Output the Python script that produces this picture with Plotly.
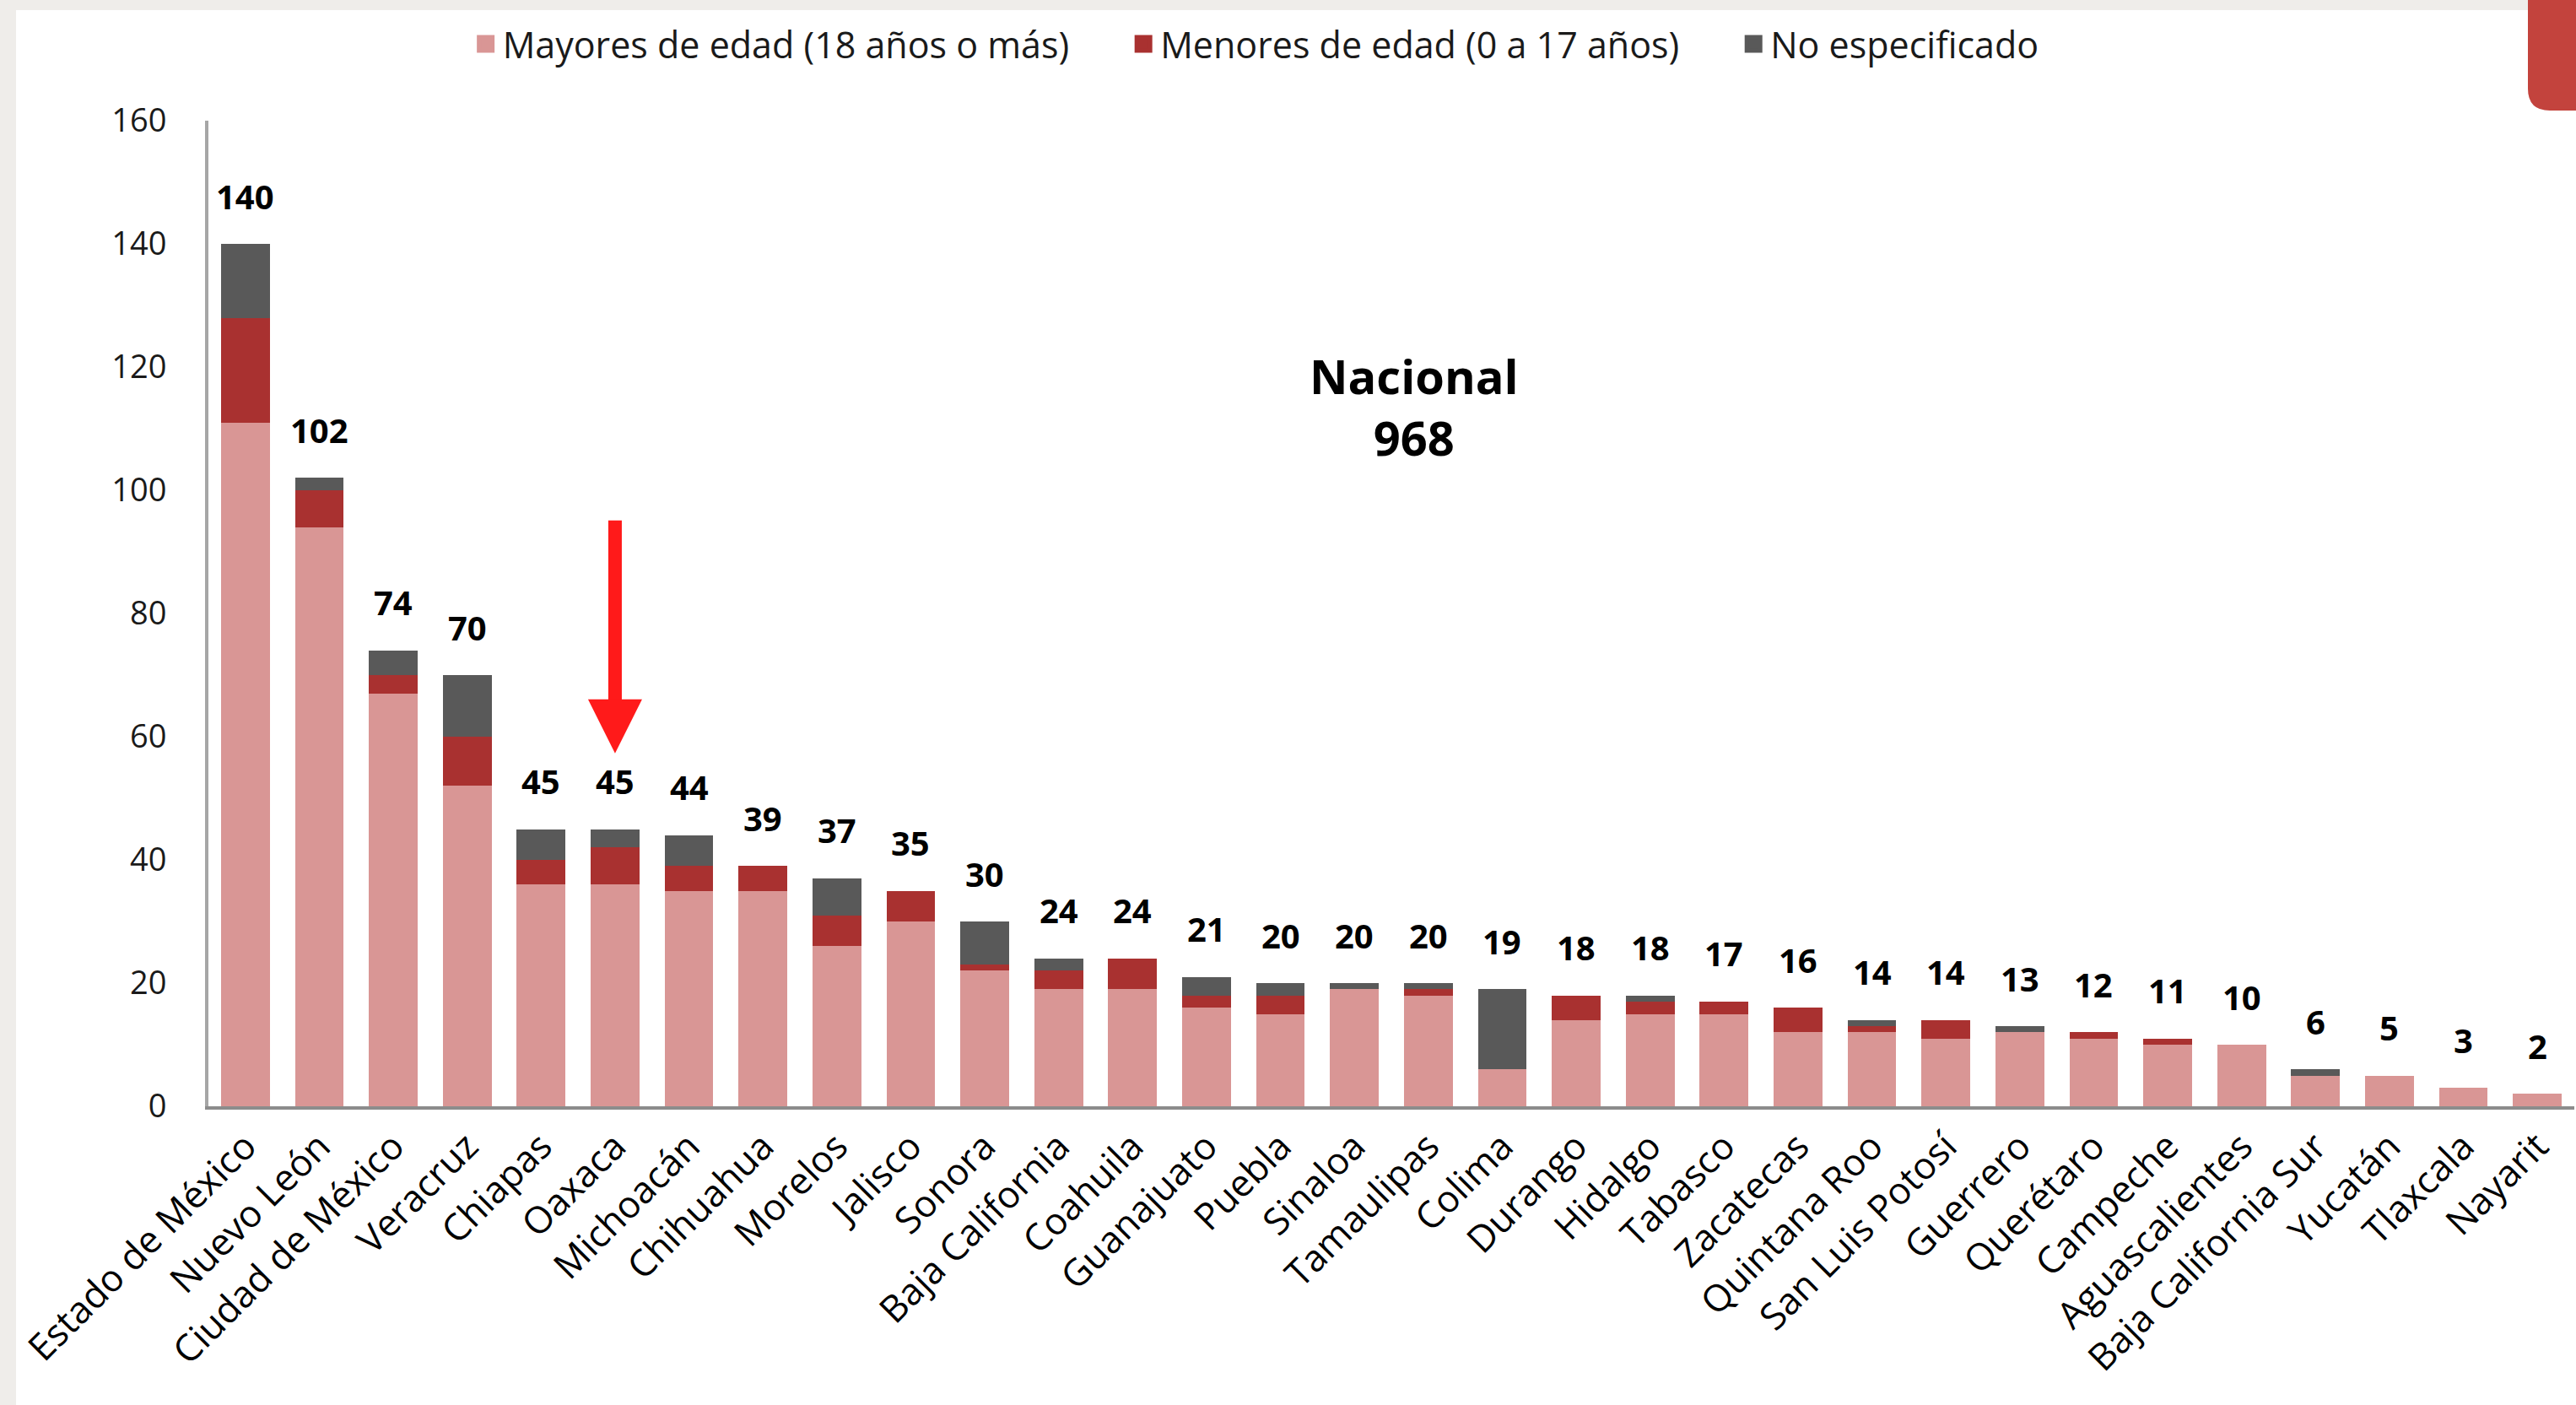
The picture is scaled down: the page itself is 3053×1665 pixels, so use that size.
import plotly.graph_objects as go

categories = ["Estado de México", "Nuevo León", "Ciudad de México", "Veracruz", "Chiapas",
              "Oaxaca", "Michoacán", "Chihuahua", "Morelos", "Jalisco", "Sonora",
              "Baja California", "Coahuila", "Guanajuato", "Puebla", "Sinaloa",
              "Tamaulipas", "Colima", "Durango", "Hidalgo", "Tabasco", "Zacatecas",
              "Quintana Roo", "San Luis Potosí", "Guerrero", "Querétaro", "Campeche",
              "Aguascalientes", "Baja California Sur", "Yucatán", "Tlaxcala", "Nayarit"]
mayores = [111, 94, 67, 52, 36, 36, 35, 35, 26, 30, 22, 19, 19, 16, 15, 19,
           18, 6, 14, 15, 15, 12, 12, 11, 12, 11, 10, 10, 5, 5, 3, 2]
menores = [17, 6, 3, 8, 4, 6, 4, 4, 5, 5, 1, 3, 5, 2, 3, 0,
           1, 0, 4, 2, 2, 4, 1, 3, 0, 1, 1, 0, 0, 0, 0, 0]
no_especificado = [12, 2, 4, 10, 5, 3, 5, 0, 6, 0, 7, 2, 0, 3, 2, 1,
                   1, 13, 0, 1, 0, 0, 1, 0, 1, 0, 0, 0, 1, 0, 0, 0]
series_names = ["Mayores de edad (18 años o más)", "Menores de edad (0 a 17 años)", "No especificado"]
series_colors = ["#D99695", "#A93130", "#595959"]
y_ticks = [0, 20, 40, 60, 80, 100, 120, 140, 160]
highlight = "Oaxaca"

totals = [a + b + c for a, b, c in zip(mayores, menores, no_especificado)]
nacional = sum(totals)

FONT = "Open Sans"
W, H = 3053, 1665
ML, MR, MT, MB = 247, 2, 143, 354
PW, PH = W - ML - MR, H - MT - MB


def px_x(p):
    return (p - ML) / PW


def px_y(p):
    return (H - MB - p) / PH


fig = go.Figure()
for name, vals, col in zip(series_names, [mayores, menores, no_especificado], series_colors):
    fig.add_trace(go.Bar(x=categories, y=vals, name=name, marker=dict(color=col, line=dict(width=0)),
                         showlegend=False, hoverinfo="x+y+name"))
# legend entries
pad = "\u00a0" * 5 + "\u2009"
for name, col in zip(series_names, series_colors):
    fig.add_trace(go.Scatter(x=[None], y=[None], mode="markers", name=name + pad,
                             marker=dict(symbol="square", size=16, color=col,
                                         line=dict(color=col, width=5))))

annotations = []
for c, t in zip(categories, totals):
    annotations.append(dict(x=c, y=t, text=f"<b>{t}</b>", showarrow=False, yanchor="middle",
                            yshift=57, font=dict(family=FONT, size=40, color="#000000")))
annotations.append(dict(xref="paper", yref="paper", x=px_x(1676), y=px_y(482),
                        xanchor="center", yanchor="middle",
                        text=f"<b>Nacional<br>{nacional}</b>", showarrow=False,
                        font=dict(family=FONT, size=56, color="#000000")))
annotations.append(dict(x=highlight, y=57.3, ax=highlight, ay=95.3, axref="x", ayref="y",
                        text="", showarrow=True, arrowhead=2, arrowwidth=16, arrowsize=0.8,
                        arrowcolor="#FF1A1A", standoff=0))

shapes = [
    dict(type="rect", xref="paper", yref="paper", x0=px_x(19), x1=px_x(W + 10),
         y0=px_y(H + 10), y1=px_y(12), fillcolor="#FFFFFF", line=dict(width=0), layer="below"),
    dict(type="path", xref="paper", yref="paper",
         path=(f"M{px_x(2996)},{px_y(-5)} L{px_x(W + 5)},{px_y(-5)} L{px_x(W + 5)},{px_y(131)} "
               f"L{px_x(3022)},{px_y(131)} Q{px_x(2996)},{px_y(131)} {px_x(2996)},{px_y(105)} Z"),
         fillcolor="#C3433D", line=dict(width=0), layer="above"),
]

fig.update_layout(
    width=W, height=H,
    margin=dict(l=ML, r=MR, t=MT, b=MB, autoexpand=False),
    paper_bgcolor="#EFEDEA", plot_bgcolor="#FFFFFF",
    barmode="stack", bargap=0.34,
    font=dict(family=FONT, color="#1A1A1A"),
    legend=dict(orientation="h", xref="container", yref="container", x=0.182, y=1 - 52 / H,
                xanchor="left", yanchor="middle", font=dict(family=FONT, size=43, color="#1A1A1A"),
                bgcolor="rgba(0,0,0,0)", traceorder="normal"),
    annotations=annotations, shapes=shapes,
    showlegend=True,
)
fig.update_xaxes(type="category", categoryorder="array", categoryarray=categories,
                 tickangle=-45, tickfont=dict(family=FONT, size=44, color="#000000"),
                 showline=True, linecolor="#8C8C8C", linewidth=4, ticks="", showgrid=False,
                 automargin=False, zeroline=False)
fig.update_yaxes(range=[0, 160], tickvals=y_ticks, tickfont=dict(family=FONT, size=38, color="#1A1A1A"),
                 showline=True, linecolor="#A6A6A6", linewidth=4, ticks="", showgrid=False,
                 zeroline=False, automargin=False, ticklabelstandoff=38)

fig.write_html("out.html", config={"displayModeBar": False},
               post_script="document.body.style.margin='0';document.body.style.overflow='hidden';")
